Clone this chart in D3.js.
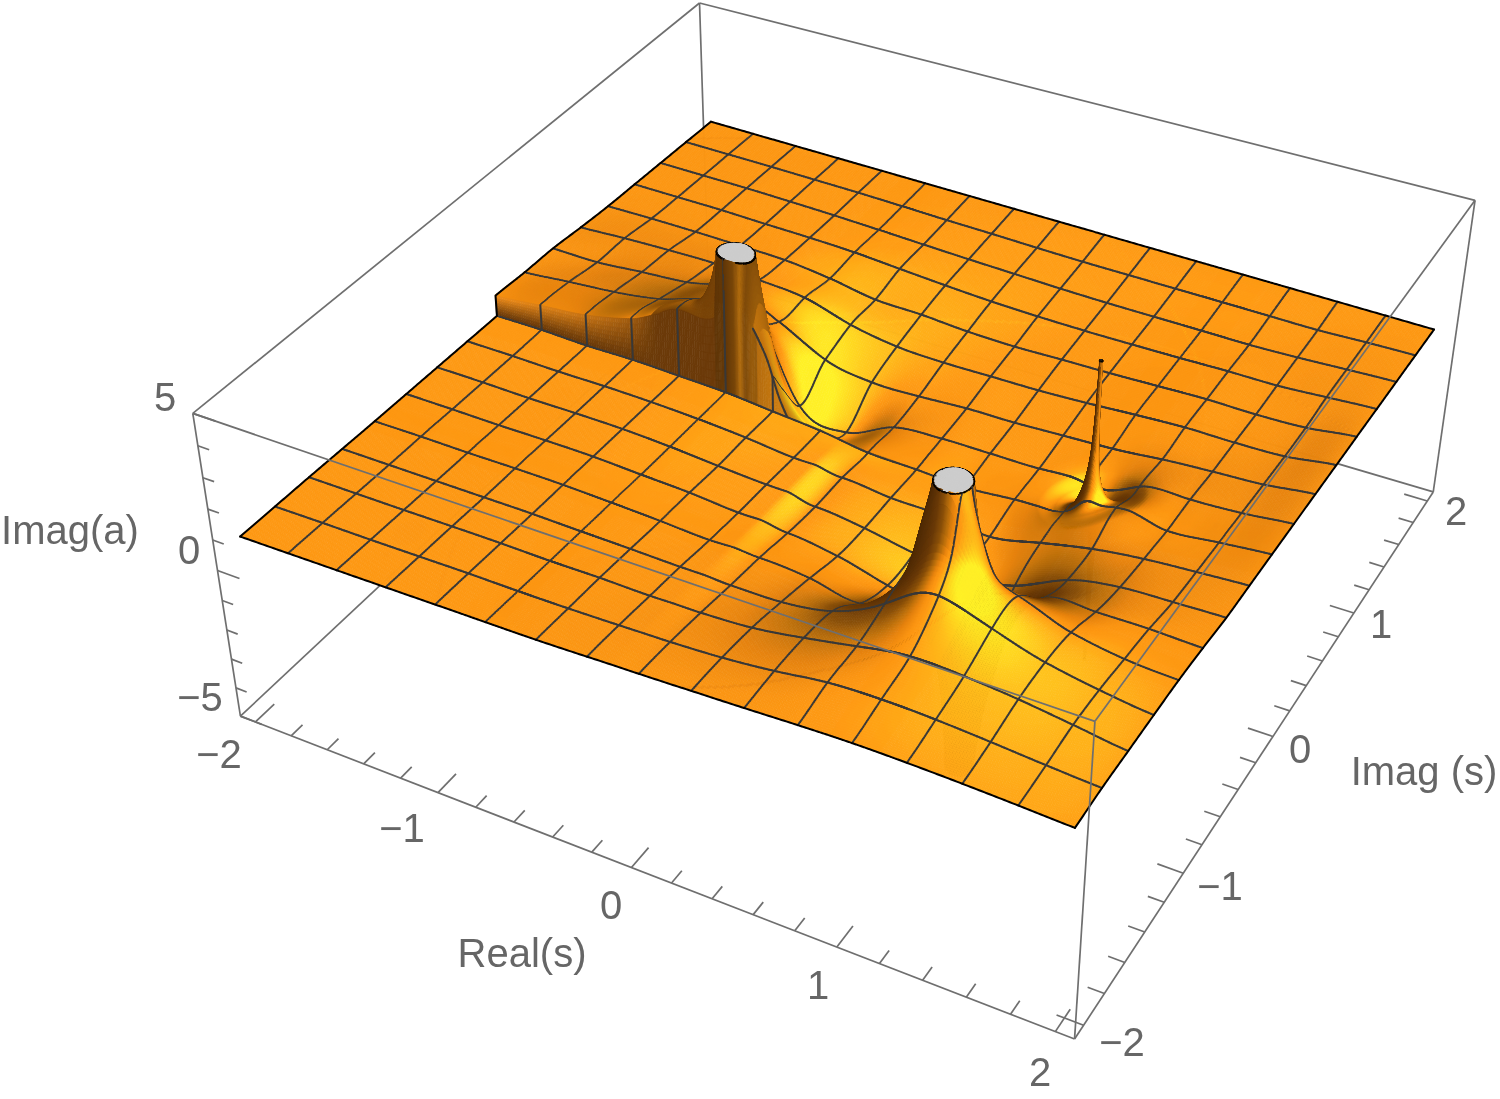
<!DOCTYPE html>
<html><head><meta charset="utf-8">
<style>html,body{margin:0;padding:0;background:#fff}#w{position:relative;width:1500px;height:1099px;overflow:hidden}
svg,canvas{position:absolute;left:0;top:0}text{font-family:"Liberation Sans",Arial,sans-serif;font-size:40px;fill:#666}</style>
<script src="https://cdnjs.cloudflare.com/ajax/libs/d3/7.8.5/d3.min.js"></script></head>
<body><div id="w"><svg id="back" width="1500" height="1099"></svg><canvas id="c" width="1500" height="1099"></canvas><svg id="front" width="1500" height="1099"></svg></div>
<script>
// ---- data ----
const meshRe=[-2,-1.75,-1.5,-1.25,-1,-0.75,-0.5,-0.25,0,0.25,0.5,0.75,1,1.25,1.5,1.75,2];
const meshImLower=[-2,-1.75,-1.5,-1.25,-1,-0.75,-0.5,-0.25,0];
const meshImUpper=[0,0.25,0.5,0.75,1,1.25,1.5,1.75,2];
const plateau=1; // Imag(a) of the far flat part
// Imag(a) minus plateau at mesh nodes; rows = Imag(s), columns = Real(s); null = hidden behind a pole
const lowerRows=[
[0,0,0,0,0,0,0,.03,.06,.1,.14,.19,.22,.2,.15,.08,0],
[-.02,-.02,-.03,-.03,-.03,-.05,-.05,-.03,0,.07,.22,.43,.48,.43,.32,.19,.08],
[-.04,-.05,-.06,-.06,-.07,-.1,-.1,-.13,-.12,-.04,.2,.5,.75,.7,.55,.33,.1],
[-.07,-.08,-.09,-.1,-.11,-.15,-.18,-.22,-.27,-.26,0,.8,1.6,1.13,.63,.33,.12],
[-.1,-.1,-.12,-.12,-.14,-.2,-.27,-.36,-.4,-.52,-.8,null,null,1.1,.51,.23,.13],
[-.12,-.13,-.15,-.15,-.17,-.25,-.32,-.45,-.59,-.81,-1.23,null,null,0,.12,.13,.08],
[-.14,-.15,-.18,-.18,-.2,-.28,-.4,-.5,-.71,-.89,-1.18,-1.3,-1.17,-.44,-.12,-.05,0],
[-.16,-.17,-.2,-.2,-.23,-.3,-.41,-.57,-.72,-.87,-.91,-1.1,-.77,-.43,-.22,-.1,0],
[-.18,-.18,-.23,-.22,-.27,-.33,-.47,-.61,-.84,-.89,-.97,-.85,-.73,-.07,-.3,-.15,0]];
const upperRows=[
[.5,.65,.8,1.15,1.7,null,-.6,-1.2,-.84,-.89,-.97,-.85,-.73,-.07,-.3,-.15,0],
[.43,.57,.7,.93,1.38,null,-1.2,-1.6,-.93,-.8,-.79,-.78,-.8,-.35,-.25,-.17,0],
[.4,.39,.52,.64,.9,.25,-.54,-.82,-.8,-.71,-.69,-.62,-.55,-.4,-.29,-.2,0],
[.29,.37,.42,.44,.33,.2,-.24,-.5,-.56,-.54,-.52,-.45,-.35,-.27,-.27,-.22,0],
[.2,.22,.22,.2,.17,0,-.25,-.29,-.39,-.42,-.38,-.35,-.3,-.25,-.26,-.2,0],
[.15,.15,.15,.12,.1,.05,-.05,-.15,-.23,-.27,-.28,-.27,-.25,-.21,-.2,-.1,0],
[.1,.1,.1,.08,.05,0,-.05,-.1,-.14,-.18,-.2,-.2,-.2,-.2,-.15,-.07,0],
[.05,.05,.05,.04,.03,0,-.03,-.05,-.08,-.1,-.1,-.1,-.1,-.1,-.1,-.04,0],
[0,0,0,0,0,0,0,0,0,0,0,0,0,0,0,0,0]];
// poles of a(s): position, raised-lobe direction, radial strength table
const poleRadius=[.005,.02,.05,.1,.14,.18,.25,.35,.5,.75,1,1.5,2.2];
const strengthA=[130,32,13,6.5,4.6,3.4,2,1.4,.95,.42,.2,.05,.005];
const strengthB=[144,36,14.4,7.2,5.1,4,2.2,1.4,.9,.5,.28,.1,.005];
const strengthC=[10,2.5,1,.45,.34,.28,.2,.14,.1,.05,.02,.005,.001];
const poleReal=[-.715,.925,1.096];
const poleImag=[-.002,-.91,.092];
const poleDirRe=[0,0,0];
const poleDirIm=[1,-1,-1];
const poleTables=[strengthA,strengthB,strengthC];
// narrow ring-shaped dip round the thin spike
const moatRadius=[0,.04,.08,.12,.17,.25,.36,.48,.6];
const moatDepth=[0,-.1,-.25,-.32,-.25,-.1,-.03,-.005,0];
// extra crest along the upper lip of the cut, next to the first pole
const crestRe=[-1.1,-.9,-.75,-.62,-.54,-.46,-.4,-.34];
const crestZ=[0,.5,1.4,2.2,1.8,.7,.2,0];
const crestDecayIm=[0,.04,.08,.14,.22];
const crestDecay=[1,.55,.25,.08,0];
// tone of the steep front of the first pole (0 dark, 1 light) by Real(s)
const streakRe=[-.8,-.765,-.75,-.697,-.67,-.644,-.606,-.58];
const streakTone=[0,.05,0,.25,.8,.3,.55,.5];
const realTicks=d3.range(-2,2.01,.2),imagTicks=d3.range(-2,2.01,.2),zTicks=d3.range(-5,5.01,1);
const tickLabels=["\u22122","\u22121","0","1","2"];
const zLabels=["\u22125","0","5"];
const axisTitles=["Imag(a)","Real(s)","Imag (s)"];
const BR=2.085,ZR=5,ZMAX=5,ZMIN=-5;
// camera calibration anchors: [re,im,z,px,py]
const boxAnchors=[[-BR,-BR,-ZR,239.3,712.7],[BR,-BR,-ZR,1075,1039.3],[BR,BR,-ZR,1435,488.3],[-BR,BR,-ZR,706,283],
[-BR,-BR,ZR,192.3,411.7],[BR,-BR,ZR,1093.3,724.3],[BR,BR,ZR,1473.3,201.7],[-BR,BR,ZR,702,0],[-BR,-BR,0,219,573],[1,-BR,-ZR,838,947]];
const surfaceAnchors=[[-2,-2,1,240,537],[2,-2,1,1075,827],[2,2,1,1434,330],[-2,2,1,711,121]];
// label positions on the page
const realLabelPos=[[219,754],[402,828],[611,905],[818,985],[1040,1072]];
const imagLabelPos=[[1122,1042],[1220,886],[1300,749],[1381,624],[1456,511]];
const zLabelPos=[[200,697],[189,550],[165,397]];
const titlePos=[[70,530],[522,953],[1424,771]];

function solve(A,b){const n=b.length;for(let i=0;i<n;i++){let m=i;for(let k=i+1;k<n;k++)if(Math.abs(A[k][i])>Math.abs(A[m][i]))m=k;[A[i],A[m]]=[A[m],A[i]];[b[i],b[m]]=[b[m],b[i]];
 for(let k=i+1;k<n;k++){const f=A[k][i]/A[i][i];for(let l=i;l<n;l++)A[k][l]-=f*A[i][l];b[k]-=f*b[i];}}
 const x=Array(n).fill(0);for(let i=n-1;i>=0;i--){let s=b[i];for(let l=i+1;l<n;l++)s-=A[i][l]*x[l];x[i]=s/A[i][i];}return x;}
function fitCamera(list){const N=Array.from({length:11},()=>Array(11).fill(0)),R=Array(11).fill(0);
 list.forEach(([X,Y,Z,px,py,w])=>{const x=px/1000,y=py/1000;
 [[[X,Y,Z,1,0,0,0,0,-x*X,-x*Y,-x*Z],x],[[0,0,0,0,X,Y,Z,1,-y*X,-y*Y,-y*Z],y]].forEach(([r,v])=>{for(let a=0;a<11;a++){R[a]+=w*r[a]*v;for(let b=0;b<11;b++)N[a][b]+=w*r[a]*r[b];}});});
 const p=solve(N,R);
 return (X,Y,Z)=>{const d=p[8]*X+p[9]*Y+p[10]*Z+1;return [1000*(p[0]*X+p[1]*Y+p[2]*Z+p[3])/d,1000*(p[4]*X+p[5]*Y+p[6]*Z+p[7])/d];};}
const projectBox=fitCamera(boxAnchors.map(a=>[...a,1]));
const project=fitCamera(boxAnchors.map(a=>[...a,1]).concat(surfaceAnchors.map(a=>[...a,25])));

function smoothTable(xs,ys){const n=xs.length,d=[],m=[];for(let i=0;i<n-1;i++)d.push((ys[i+1]-ys[i])/(xs[i+1]-xs[i]));
 m[0]=d[0];m[n-1]=d[n-2];for(let i=1;i<n-1;i++)m[i]=d[i-1]*d[i]<=0?0:2*d[i-1]*d[i]/(d[i-1]+d[i]);
 return x=>{if(x<=xs[0])return ys[0]+(x-xs[0])*m[0];if(x>=xs[n-1])return ys[n-1];let i=d3.bisectRight(xs,x)-1;const h=xs[i+1]-xs[i],t=(x-xs[i])/h,t2=t*t,t3=t2*t;
  return (2*t3-3*t2+1)*ys[i]+(t3-2*t2+t)*h*m[i]+(-2*t3+3*t2)*ys[i+1]+(t3-t2)*h*m[i+1];};}
const logR=poleRadius.map(Math.log);
const strength=poleTables.map(t=>{const f=smoothTable(logR,t.map(Math.log));return r=>r>=2.2?0:Math.exp(f(Math.log(r)));});
const crestF=smoothTable(crestRe,crestZ),decayF=smoothTable(crestDecayIm,crestDecay),moatF=smoothTable(moatRadius,moatDepth);
const streakF=d3.scaleLinear().domain(streakRe).range(streakTone).clamp(true);
function poleSum(re,im,upper){let z=0;poleReal.forEach((pr,k)=>{let w=1;if(k===0&&!upper){w=Math.max(0,Math.min(1,(re+.15)/.15));w=w*w*(3-2*w);}if(!w)return;
  const dx=re-pr,dy=im-poleImag[k],r=Math.max(1e-4,Math.hypot(dx,dy));
  z+=w*strength[k](r)*(dx*poleDirRe[k]+dy*poleDirIm[k])/r;
  if(k===2&&r<.6)z+=moatF(r);});return z;}
function background(rows,ims,upper){const out=rows.map((r,j)=>r.map((v,i)=>v===null?null:plateau+v-poleSum(meshRe[i],ims[j],upper)));
 out.forEach((r,j)=>r.forEach((v,i)=>{if(v===null){const nb=[];[[0,1],[0,-1],[1,0],[-1,0]].forEach(([a,b])=>{const q=out[j+a]&&out[j+a][i+b];if(q!==null&&q!==undefined)nb.push(q);});out[j][i]=d3.mean(nb);}}));return out;}
const bgLower=background(lowerRows,meshImLower,false),bgUpper=background(upperRows,meshImUpper,true);
// softened copy of the background, used for shading only
function soften(g,keep){const m=g.length-1,n=g[0].length-1,at=(j,i)=>g[Math.max(0,Math.min(m,j))][Math.max(0,Math.min(n,i))];
 return g.map((r,j)=>r.map((v,i)=>{let s=0;[[-1,1],[0,2],[1,1]].forEach(([a,wa])=>[[-1,1],[0,2],[1,1]].forEach(([b,wb])=>{s+=wa*wb*at(j+a,i+b);}));return keep*v+(1-keep)*s/16;}));}
const softLower=soften(bgLower,.12),softUpper=soften(bgUpper,.35);
const reScale=d3.scaleLinear().domain([-2,2]).range([0,16]);
function cr(a,b,c,d,t){return .5*((2*b)+(c-a)*t+(2*a-5*b+4*c-d)*t*t+(3*b-a-3*c+d)*t*t*t);}
function gridAt(rows,re,v){const u=reScale(re),n=16,m=rows.length-1;
 const iu=Math.min(n-1,Math.max(0,Math.floor(u))),tu=u-iu,iv=Math.min(m-1,Math.max(0,Math.floor(v))),tv=v-iv;
 const row=j=>{const r=rows[Math.max(0,Math.min(m,j))];return cr(r[Math.max(0,iu-1)],r[iu],r[iu+1],r[Math.min(n,iu+2)],tu);};
 return cr(row(iv-1),row(iv),row(iv+1),row(iv+2),tv);}
const crestPart=(re,im,upper)=>(upper&&re>-1.1&&re<-.34&&im<.22)?Math.max(0,crestF(re))*Math.max(0,decayF(im)):0;
const height=(re,im,upper)=>(upper?gridAt(bgUpper,re,im*4):gridAt(bgLower,re,(im+2)*4))+poleSum(re,im,upper)+crestPart(re,im,upper);
const shadeHeight=(re,im,upper)=>(upper?gridAt(softUpper,re,im*4):gridAt(softLower,re,(im+2)*4))+poleSum(re,im,upper);
function dense(c){const o=[];d3.range(0,.03,.0015).forEach(d=>o.push(c-d,c+d));d3.range(.03,.16,.006).forEach(d=>o.push(c-d,c+d));return o;}
function uniq(a){return Array.from(new Set(a.map(v=>+v.toFixed(4)))).sort(d3.ascending);}
const reS=uniq(d3.range(-2,2.001,.0125).concat(meshRe,...poleReal.map(dense))).filter(v=>v>=-2&&v<=2);
const imAll=uniq(d3.range(-2,2.001,.0125).concat(meshImLower,meshImUpper,...poleImag.map(dense))).filter(v=>v>=-2&&v<=2);
const rowsU=imAll.filter(v=>v>=0).reverse().map(im=>({im,up:true})),rowsL=imAll.filter(v=>v<=0).reverse().map(im=>({im,up:false}));
const rows=rowsU.concat(rowsL),wallRow=rowsU.length-1;
const Z=rows.map(r=>Float32Array.from(reS,re=>height(re,r.im,r.up)));
const S=rows.map(r=>Float32Array.from(reS,re=>shadeHeight(re,r.im,r.up)));
const clip=z=>Math.max(ZMIN,Math.min(ZMAX,z));
const PX=rows.map((r,i)=>reS.map((re,c)=>project(re,r.im,clip(Z[i][c]))));

// light from the viewer's lower right; t = brightness relative to the flat part
const LIGHT=[.6,-.3,.74];
const ramp=d3.scaleLinear().domain([-1,-.6,-.4,-.25,-.15,-.08,-.02,.02,.05,.1,.15,.2,.3])
 .range(["#4a2804","#5a3006","#6a3a07","#8a5009","#bc700c","#e6830f","#fb9512","#ff9c15","#ffa917","#ffbc1b","#ffd820","#fff026","#ffee26"]).clamp(true);
const lut=d3.range(0,1025).map(i=>d3.rgb(ramp(i/512-1)).formatHex());
const ZS=.16;
const ctx=document.getElementById("c").getContext("2d");
ctx.lineJoin="round";ctx.lineCap="round";
const MESH="#383838",MW=2;
const colDefer=new Map(),rowDefer=new Map();
meshRe.slice(1,-1).forEach(m=>{const cm=reS.indexOf(m);let cd=cm;while(cd<reS.length-2&&reS[cd]<m+.012)cd++;if(!colDefer.has(cd))colDefer.set(cd,[]);colDefer.get(cd).push(cm);});
function addRow(m,up,lim){const rm=rows.findIndex(r=>r.up===up&&r.im===m);let rd=rm;if(up&&m===0)rd=wallRow;else{while(rd<rows.length-2&&rows[rd].im>m-.012&&rd!==wallRow)rd++;}
 if(!rowDefer.has(rd))rowDefer.set(rd,[]);rowDefer.get(rd).push({rm,lim});}
meshImUpper.forEach(m=>{if(m===2)return;addRow(m,true,m===0?[-.6,0]:null);});
meshImLower.forEach(m=>{if(m===-2)return;addRow(m,false,null);});
const seg=(a,b)=>{ctx.beginPath();ctx.moveTo(a[0],a[1]);ctx.lineTo(b[0],b[1]);ctx.stroke();};
const mix=(a,b,t)=>d3.interpolateRgb(a,b)(t);
const streakCol=re=>mix("#5f3507","#c87c10",streakF(re));
const inStreak=re=>re>-.8&&re<-.58;
for(let r=0;r<rows.length-1;r++){
 for(let c=0;c<reS.length-1;c++){
  const a=PX[r][c],b=PX[r][c+1],d=PX[r+1][c],e=PX[r+1][c+1];
  const za=Z[r][c],zb=Z[r][c+1],zd=Z[r+1][c],ze=Z[r+1][c+1];
  const re0=reS[c],im0=rows[r].im;
  if(r===wallRow){
   const wh=(clip(za)+clip(zb))/2-(clip(zd)+clip(ze))/2;
   if(wh>.02){const top=mix("#f59019","#6b3a08",Math.max(0,Math.min(1,(wh-.6)/1.2)));const n=8;
    for(let k=0;k<n;k++){const f0=k/n,f1=(k+1)/n;
     const L=(P,Q,t)=>[P[0]+(Q[0]-P[0])*t,P[1]+(Q[1]-P[1])*t];
     const a1=L(a,d,f0),b1=L(b,e,f0),a2=L(a,d,f1),b2=L(b,e,f1);
     let col=mix(top,"#6b3a08",Math.min(1,f0*1.2));
     if(inStreak(re0))col=streakCol(re0);
     if(re0>=-.58)col=mix("#b46c0e","#d58312",Math.min(1,(re0+.58)/.15));
     ctx.fillStyle=col;ctx.strokeStyle=col;ctx.lineWidth=.7;
     ctx.beginPath();ctx.moveTo(a1[0],a1[1]);ctx.lineTo(b1[0],b1[1]);ctx.lineTo(b2[0],b2[1]);ctx.lineTo(a2[0],a2[1]);ctx.closePath();ctx.fill();ctx.stroke();}
   }
  }else{
   const capd=za>=ZMAX&&zb>=ZMAX&&zd>=ZMAX&&ze>=ZMAX;
   let col;
   if(capd)col="#cdcdcd";
   else{
    const sa=S[r][c],sb=S[r][c+1],sd=S[r+1][c],se=S[r+1][c+1];
    const dre=reS[c+1]-reS[c],dim=rows[r].im-rows[r+1].im;
    const sr=((sb-sa)+(se-sd))/2/dre*ZS,si=((sa-sd)+(sb-se))/2/dim*ZS;
    const nn=Math.sqrt(1+sr*sr+si*si);
    const t=(-sr*LIGHT[0]-si*LIGHT[1]+LIGHT[2])/nn-LIGHT[2],nz=1/nn;
    col=lut[Math.max(0,Math.min(1024,Math.round((t+1)*512)))];
    if(rows[r].up&&im0<.12&&inStreak(re0)&&nz<.5)col=streakCol(re0);
    if(rows[r].up&&im0<.13&&re0>=-.6&&re0<-.36)col=mix(col,"#c27510",Math.pow(1-im0/.13,.6));
    if(rows[r].up&&im0<.14&&re0>-1.15&&re0<-.8)col=mix(col,"#7a4508",Math.pow(1-im0/.14,.6));
   }
   ctx.fillStyle=col;ctx.strokeStyle=col;ctx.lineWidth=.7;
   ctx.beginPath();ctx.moveTo(a[0],a[1]);ctx.lineTo(b[0],b[1]);ctx.lineTo(e[0],e[1]);ctx.lineTo(d[0],d[1]);ctx.closePath();ctx.fill();ctx.stroke();
   const vals=[za,zb,ze,zd],cr2=[];
   if(vals.some(v=>v>=ZMAX)&&vals.some(v=>v<ZMAX)){
    for(let q=0;q<4;q++){const v1=vals[q],v2=vals[(q+1)%4];if((v1>=ZMAX)!==(v2>=ZMAX)){
      const I=q=>[[reS[c],reS[c+1],reS[c+1],reS[c]][q],[rows[r].im,rows[r].im,rows[r+1].im,rows[r+1].im][q]];
      const A0=I(q),B0=I((q+1)%4),T=(ZMAX-v1)/(v2-v1);cr2.push(project(A0[0]+(B0[0]-A0[0])*T,A0[1]+(B0[1]-A0[1])*T,ZMAX));}}
    if(cr2.length>=2){ctx.strokeStyle="#000";ctx.lineWidth=1.8;seg(cr2[0],cr2[1]);}
   }
  }
  ctx.strokeStyle=MESH;ctx.lineWidth=MW;
  const cl=colDefer.get(c);if(cl)cl.forEach(cm=>{if(Z[r][cm]<ZMAX||Z[r+1][cm]<ZMAX)seg(PX[r][cm],PX[r+1][cm]);});
  const rl=rowDefer.get(r);if(rl)rl.forEach(o=>{if(o.lim&&(reS[c]<o.lim[0]||reS[c]>=o.lim[1]))return;if(Z[o.rm][c]<ZMAX||Z[o.rm][c+1]<ZMAX)seg(PX[o.rm][c],PX[o.rm][c+1]);});
 }
}
const outline=d3.line().context(ctx);
ctx.strokeStyle="#000";ctx.lineWidth=2;
[-2,2].forEach(re=>{const ci=reS.indexOf(re);ctx.beginPath();outline(rows.map((_,r)=>PX[r][ci]));ctx.stroke();});
[0,rows.length-1].forEach(r=>{ctx.beginPath();outline(PX[r]);ctx.stroke();});

const pjs=(a,b)=>{const A=projectBox(...a),B=projectBox(...b);return {x1:A[0],y1:A[1],x2:B[0],y2:B[1]};};
const B=BR,H=ZR;
const backEdges=[[[-B,-B,-H],[B,-B,-H]],[[B,-B,-H],[B,B,-H]],[[B,B,-H],[-B,B,-H]],[[-B,B,-H],[-B,-B,-H]],[[-B,-B,-H],[-B,-B,H]],[[-B,B,-H],[-B,B,H]],[[B,B,-H],[B,B,H]],[[-B,-B,H],[-B,B,H]],[[-B,B,H],[B,B,H]]];
const frontEdges=[[[-B,-B,H],[B,-B,H]],[[B,-B,H],[B,B,H]],[[B,-B,H],[B,-B,-H]]];
const isMajor=v=>Math.abs(v-Math.round(v))<1e-6;
const tickSegs=[];
realTicks.forEach(v=>tickSegs.push([[v,-B,-H],[v,-B+(isMajor(v)?.14:.085),-H]]));
imagTicks.forEach(v=>tickSegs.push([[B,v,-H],[B-(isMajor(v)?.12:.075),v,-H]]));
zTicks.forEach(v=>tickSegs.push([[-B,-B,v],[-B+(v%5===0?.12:.06),-B,v]]));
function drawLines(sel,data,cls){sel.selectAll("line."+cls).data(data).join("line").attr("class",cls).each(function(d){const o=pjs(d[0],d[1]);d3.select(this).attr("x1",o.x1).attr("y1",o.y1).attr("x2",o.x2).attr("y2",o.y2);}).attr("stroke","#6f6f6f").attr("stroke-width",1.7);}
const back=d3.select("#back"),front=d3.select("#front");
drawLines(back,backEdges,"edge");drawLines(back,tickSegs,"tick");drawLines(front,frontEdges,"edge");
const texts=[];
tickLabels.forEach((t,i)=>{texts.push({t,p:realLabelPos[i]});texts.push({t,p:imagLabelPos[i]});});
zLabels.forEach((t,i)=>texts.push({t,p:zLabelPos[i]}));
axisTitles.forEach((t,i)=>texts.push({t,p:titlePos[i]}));
front.selectAll("text").data(texts).join("text").attr("x",d=>d.p[0]).attr("y",d=>d.p[1]).attr("text-anchor","middle").attr("dominant-baseline","central").text(d=>d.t);
</script></body></html>
